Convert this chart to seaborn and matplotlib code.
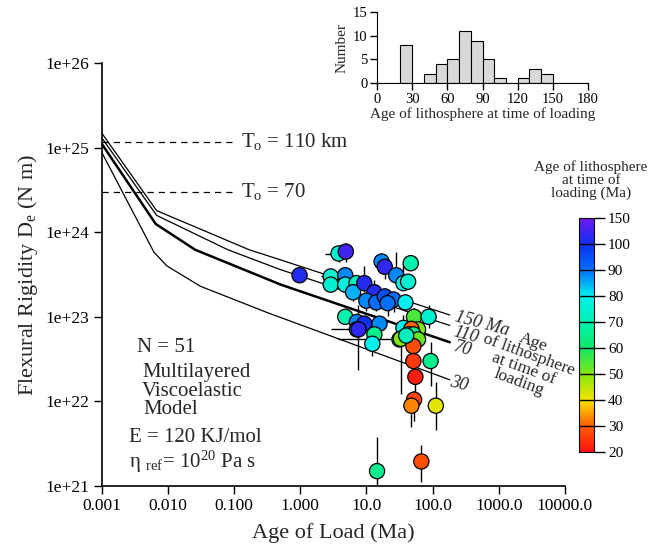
import numpy as np
import pandas as pd
import seaborn as sns
import matplotlib
matplotlib.use("Agg")
import matplotlib.pyplot as plt
from matplotlib.colors import LinearSegmentedColormap, FuncNorm
from matplotlib.cm import ScalarMappable
from matplotlib.ticker import NullLocator

# ---------------- data ----------------
# observed points: age of load (Ma), flexural rigidity (N m), age of lithosphere (Ma)
load_age = [3.8, 4.9, 0.98, 2.9, 2.9, 4.8, 4.8, 7.1, 6.3, 9.3,
            13.2, 10.0, 14.1, 19.0, 4.8, 7.2, 9.3, 7.2, 7.6, 15.8,
            13.2, 12.3, 17.0, 19.0, 46.8, 28.2, 36.3, 42.7, 25.7, 38.9,
            20.9, 52.5, 87.1, 36.3, 60.3, 47.9, 43.7, 51.3, 31.6, 33.1,
            60.3, 51.3, 51.3, 93.3, 55.0, 52.5, 47.9, 112.0, 14.5, 67.6, 40.0]
rigidity = [5.6e23, 5.9e23, 3.1e23, 3.0e23, 2.4e23, 3.1e23, 2.4e23, 2.5e23, 1.95e23, 2.5e23,
            1.95e23, 1.55e23, 1.48e23, 1.74e23, 1.0e23, 8.7e22, 8.3e22, 7.1e22, 7.1e22, 8.3e22,
            6.2e22, 4.8e22, 4.5e23, 3.9e23, 4.3e23, 3.1e23, 2.5e23, 2.6e23, 1.6e23, 1.48e23,
            1.45e23, 1.0e23, 1.0e23, 7.4e22, 7.1e22, 7.2e22, 6.2e22, 6.2e22, 5.4e22, 5.5e22,
            5.4e22, 4.5e22, 3.0e22, 3.0e22, 1.95e22, 1.05e22, 8.9e21, 8.9e21, 1.5e21, 1.95e21, 6.0e22]
litho_age = [75, 125, 108, 75, 75, 88, 77, 72, 85, 110,
             110, 88, 90, 95, 70, 88, 100, 65, 115, 88,
             65, 80, 88, 115, 70, 88, 78, 75, 90, 80,
             90, 55, 75, 80, 50, 30, 75, 65, 58, 50,
             52, 28, 25, 65, 22, 27, 33, 42, 65, 28, 72]
# error bars in decades (down, up, left, right)
err_dn = [0.1, 0.12, 0, 0.05, 0.05, 0.05, 0.05, 0.05, 0.1, 0.1,
          0.1, 0.12, 0.1, 0.1, 0, 0.1, 0.1, 0, 0.48, 0.1,
          0.05, 0.15, 0.1, 0.15, 0, 0.05, 0.05, 0, 0.15, 0.1,
          0.15, 0.05, 0.13, 0.1, 0, 0, 0.05, 0.05, 0, 0.65,
          0.1, 0, 0, 0.29, 0.2, 0.25, 0.25, 0.29, 0.16, 0.24, 0]
err_up = [0.1, 0.1, 0, 0.05, 0.05, 0.05, 0.05, 0.05, 0.05, 0.2,
          0.15, 0.05, 0.1, 0.1, 0, 0.05, 0.1, 0, 0.29, 0.05,
          0.05, 0.05, 0.1, 0.1, 0, 0.28, 0.24, 0, 0.1, 0.05,
          0.05, 0.1, 0.14, 0.15, 0, 0, 0.05, 0.05, 0, 0.05,
          0.05, 0, 0, 0.23, 0.05, 0.1, 0.05, 0.28, 0.4, 0.19, 0]
err_left = [0.2, 0, 0, 0.15, 0, 0, 0, 0, 0, 0,
            0, 0, 0, 0, 0, 0, 0, 0, 0.42, 0,
            0, 0, 0, 0, 0, 0, 0, 0, 0, 0,
            0, 0, 0, 0, 0, 0, 0, 0, 0, 0.95,
            0, 0, 0, 0, 0, 0, 0, 0, 0, 0, 0]
err_right = [0.0] * 51

# model curves (age of load, rigidity) for lithosphere ages
curve_x = [0.001, 0.0068, 0.17, 0.51, 182.0]
curve_150 = [1.5e25, 1.8e24, 6.2e23, 4.7e23, 1.05e23]
curve_x110 = [0.001, 0.0068, 0.081, 0.51, 182.0]
curve_110 = [1.32e25, 1.58e24, 6.2e23, 3.6e23, 7.9e22]
curve_x70 = [0.001, 0.0066, 0.026, 0.51, 182.0]
curve_70 = [1.12e25, 1.25e24, 6.2e23, 2.4e23, 5.0e22]
curve_x30 = [0.001, 0.0062, 0.0097, 0.031, 0.32, 182.0]
curve_30 = [8.9e24, 5.8e23, 4.0e23, 2.3e23, 1.12e23, 1.8e22]

# elastic thickness reference lines
te_levels = [1.17e25, 3.0e24]
te_labels = ["T$_\\mathregular{o}$ = 110 km", "T$_\\mathregular{o}$ = 70"]

# histogram of lithosphere age at time of loading
hist_age = [25, 45, 55, 65, 75, 85, 95, 105, 125, 135, 145]
hist_count = [8, 2, 4, 5, 11, 9, 5, 1, 1, 3, 2]

cbar_bounds = [20, 30, 40, 50, 60, 70, 80, 90, 100, 150]
x_ticks = [0.001, 0.01, 0.1, 1, 10, 100, 1000, 10000]
x_ticklabels = ["0.001", "0.010", "0.100", "1.000", "10.0", "100.0", "1000.0", "10000.0"]
y_ticks = [1e21, 1e22, 1e23, 1e24, 1e25, 1e26]
y_ticklabels = ["1e+21", "1e+22", "1e+23", "1e+24", "1e+25", "1e+26"]

# ---------------- style ----------------
sns.set_style("ticks")
plt.rcParams["font.family"] = ["Liberation Serif", "DejaVu Serif"]
plt.rcParams["mathtext.fontset"] = "custom"
plt.rcParams["mathtext.rm"] = "Liberation Serif"
plt.rcParams["mathtext.it"] = "Liberation Serif:italic"
plt.rcParams["axes.edgecolor"] = "black"
plt.rcParams["xtick.color"] = "black"
plt.rcParams["ytick.color"] = "black"

W, H = 670, 546
fig = plt.figure(figsize=(W / 100, H / 100), dpi=100)

def fx(px):
    return px / W

def fy(py):
    return 1 - py / H

ax = fig.add_axes([fx(101.5), fy(486), (565 - 101.5) / W, (486 - 63) / H])
ax.set_xscale("log")
ax.set_yscale("log")

# colormap
stops = ["#ff1010", "#ff6000", "#f8e400", "#80e810", "#10e868",
         "#00f2b0", "#00f0f0", "#0070ff", "#1030f0", "#7018f0"]
cmap = LinearSegmentedColormap.from_list("litho", stops, N=256)
pos = np.linspace(0, 1, len(cbar_bounds))

def fwd(v):
    return np.interp(np.asarray(v, dtype=float), cbar_bounds, pos)

def inv(v):
    return np.interp(np.asarray(v, dtype=float), pos, cbar_bounds)

norm = FuncNorm((fwd, inv), vmin=20, vmax=150)

# curves
for cx, cy, lw in [(curve_x, curve_150, 0.9), (curve_x110, curve_110, 0.9),
                   (curve_x70, curve_70, 1.8), (curve_x30, curve_30, 0.9)]:
    sns.lineplot(x=cx, y=cy, sort=False, estimator=None, color="black",
                 lw=lw, ax=ax, zorder=1)

for lev in te_levels:
    ax.plot([0.001, 0.1], [lev, lev], ls=(0, (5, 4)), color="black", lw=0.9)

# error bars
x = np.array(load_age)
y = np.array(rigidity)
yerr = [y * (1 - 10 ** -np.array(err_dn)), y * (10 ** np.array(err_up) - 1)]
xerr = [x * (1 - 10 ** -np.array(err_left)), x * (10 ** np.array(err_right) - 1)]
ax.errorbar(x, y, yerr=yerr, xerr=xerr, fmt="none", ecolor="black",
            elinewidth=1, capsize=0, zorder=2)

df = pd.DataFrame({"load_age": load_age, "rigidity": rigidity, "litho": litho_age})
palette = {a: cmap(float(norm(a))) for a in sorted(set(litho_age))}
sns.scatterplot(data=df, x="load_age", y="rigidity", hue="litho", palette=palette,
                s=120, edgecolor="black", linewidth=0.9, legend=False, ax=ax, zorder=3)

ax.set_xlim(1e-3, 1e4)
ax.set_ylim(1e21, 1e26)
ax.set_xticks(x_ticks)
ax.set_xticklabels(x_ticklabels)
ax.set_yticks(y_ticks)
ax.set_yticklabels(y_ticklabels)
ax.xaxis.set_minor_locator(NullLocator())
ax.yaxis.set_minor_locator(NullLocator())
ax.tick_params(direction="out", length=6, width=1, labelsize=12.5, pad=3)
for s in ["top", "right"]:
    ax.spines[s].set_visible(False)
for s in ["left", "bottom"]:
    ax.spines[s].set_linewidth(1.2)
ax.set_xlabel("Age of Load (Ma)", fontsize=16, labelpad=6)
ax.set_ylabel("Flexural Rigidity D$_\\mathregular{e}$ (N m)", fontsize=16, labelpad=4)

# annotation texts
fig.text(fx(241), fy(141), te_labels[0], fontsize=15, va="center", ha="left")
fig.text(fx(241), fy(191), te_labels[1], fontsize=15, va="center", ha="left")
fig.text(fx(137), fy(348), "N = 51", fontsize=15, va="center")
fig.text(fx(142), fy(373), "Multilayered", fontsize=15, va="center")
fig.text(fx(142), fy(392), "Viscoelastic", fontsize=15, va="center")
fig.text(fx(143), fy(410), "Model", fontsize=15, va="center")
fig.text(fx(129), fy(438), "E = 120 KJ/mol", fontsize=15, va="center")
fig.text(fx(129), fy(462), "η $_\\mathregular{ref}$= 10$^\\mathregular{20}$ Pa s", fontsize=15, va="center")

for lab, px, py in [("150 Ma", 455, 317), ("110", 454, 332), ("70", 454, 347), ("30", 450, 382)]:
    fig.text(fx(px), fy(py), lab, fontsize=13, rotation=-15, rotation_mode="anchor",
             ha="left", va="center", style="italic")
fig.text(fx(526), fy(362), "Age\nof lithosphere\nat time of\nloading", fontsize=12.5,
         rotation=-20, rotation_mode="anchor", ha="center", va="center",
         multialignment="center", linespacing=0.85)

# colorbar
cax = fig.add_axes([fx(579), fy(452), 15 / W, (452 - 218) / H])
sm = ScalarMappable(norm=norm, cmap=cmap)
cb = fig.colorbar(sm, cax=cax, ticks=cbar_bounds)
cb.outline.set_edgecolor("black")
cb.outline.set_linewidth(0.8)
cb.ax.hlines(cbar_bounds[1:-1], 0, 1, transform=cb.ax.get_yaxis_transform(),
             colors="black", linewidth=1, zorder=5)
cb.ax.set_yticklabels([str(b) for b in cbar_bounds])
cb.ax.tick_params(direction="out", length=8, width=1, labelsize=11, pad=2)
cb.ax.yaxis.set_minor_locator(NullLocator())
fig.text(fx(591), fy(180), "Age of lithosphere\nat time of\nloading (Ma)", fontsize=11,
         ha="center", va="center", multialignment="center", linespacing=0.95)

# inset histogram
hdf = pd.DataFrame({"age": hist_age, "count": hist_count})
axh = fig.add_axes([fx(377), fy(83), (588 - 377) / W, (83 - 12.3) / H])
sns.histplot(data=hdf, x="age", weights="count", binwidth=10, binrange=(0, 180),
             color="#d9d9d9", edgecolor="black", linewidth=0.8, alpha=1, ax=axh)
axh.set_xlim(0, 180)
axh.set_ylim(0, 15)
axh.set_xticks([0, 30, 60, 90, 120, 150, 180])
axh.set_yticks([0, 5, 10, 15])
axh.tick_params(direction="out", length=5, width=1, labelsize=10.5, pad=2)
for s in ["top", "right"]:
    axh.spines[s].set_visible(False)
axh.set_xlabel("Age of lithosphere at time of loading", fontsize=11, labelpad=1)
axh.set_ylabel("Number", fontsize=11, labelpad=3)

fig.savefig("out.png", dpi=100)
